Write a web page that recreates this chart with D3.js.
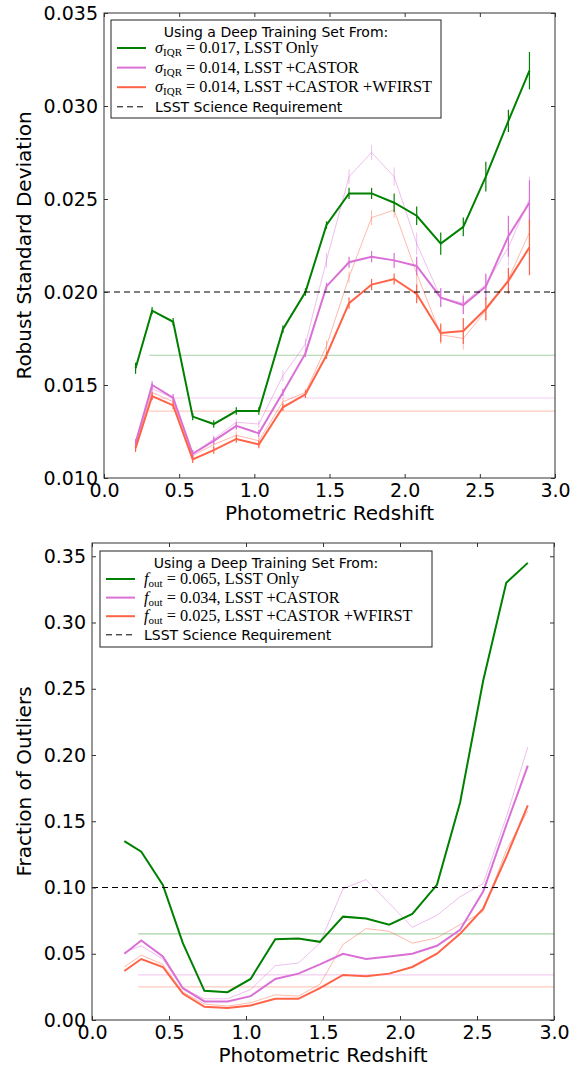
<!DOCTYPE html>
<html>
<head>
<meta charset="utf-8">
<script src="https://cdn.jsdelivr.net/npm/d3@7"></script>
<style>
  body { margin: 0; background: #fff; }
  text { font-family: "DejaVu Sans", sans-serif; }
  .math { font-family: "Liberation Serif", "DejaVu Serif", serif; }
</style>
</head>
<body>
<script>
// redshift bins (shared by both panels)
const redshift = [0.21, 0.32, 0.46, 0.59, 0.73, 0.88, 1.03, 1.19, 1.34, 1.48, 1.63, 1.78, 1.93, 2.08, 2.24, 2.39, 2.54, 2.69, 2.83];

// top panel: robust standard deviation
const sigmaLsst = [0.0159, 0.0190, 0.0184, 0.0133, 0.0129, 0.0136, 0.0136, 0.0180, 0.0200, 0.0236, 0.0253, 0.0253, 0.0248, 0.0241, 0.0226, 0.0235, 0.0262, 0.0292, 0.0319];
const sigmaLsstErr = [0.0003, 0.0002, 0.0002, 0.0002, 0.0002, 0.0002, 0.0002, 0.0002, 0.0002, 0.0002, 0.0003, 0.0003, 0.0005, 0.0005, 0.0006, 0.0005, 0.0008, 0.0006, 0.0010];
const sigmaCastor = [0.0119, 0.0150, 0.0143, 0.0113, 0.0120, 0.0128, 0.0124, 0.0146, 0.0167, 0.0203, 0.0216, 0.0219, 0.0217, 0.0214, 0.0197, 0.0193, 0.0203, 0.0230, 0.0248];
const sigmaCastorErr = [0.0002, 0.0002, 0.0002, 0.0002, 0.0002, 0.0002, 0.0002, 0.0002, 0.0002, 0.0002, 0.0003, 0.0003, 0.0004, 0.0005, 0.0005, 0.0005, 0.0007, 0.0011, 0.0012];
const sigmaWfirst = [0.0116, 0.0144, 0.0139, 0.0110, 0.0115, 0.0121, 0.0118, 0.0138, 0.0145, 0.0166, 0.0194, 0.0204, 0.0207, 0.0199, 0.0178, 0.0179, 0.0191, 0.0206, 0.0224];
const sigmaWfirstErr = [0.0002, 0.0002, 0.0002, 0.0002, 0.0002, 0.0002, 0.0002, 0.0002, 0.0002, 0.0002, 0.0003, 0.0003, 0.0003, 0.0005, 0.0005, 0.0007, 0.0006, 0.0007, 0.0015];
// faint comparison curves
const sigmaCastorAlt = [0.0118, 0.0148, 0.0143, 0.0113, 0.0121, 0.0130, 0.0129, 0.0155, 0.0172, 0.0217, 0.0262, 0.0275, 0.0262, 0.0226, 0.0197, 0.0194, 0.0204, 0.0224, 0.0250];
const sigmaCastorAltErr = [0.0002, 0.0003, 0.0002, 0.0002, 0.0002, 0.0002, 0.0002, 0.0003, 0.0003, 0.0004, 0.0004, 0.0004, 0.0005, 0.0006, 0.0005, 0.0005, 0.0005, 0.0010, 0.0012];
const sigmaWfirstAlt = [0.0117, 0.0146, 0.0141, 0.0112, 0.0118, 0.0123, 0.0120, 0.0141, 0.0146, 0.0171, 0.0208, 0.0240, 0.0244, 0.0210, 0.0177, 0.0175, 0.0190, 0.0207, 0.0232];
const sigmaWfirstAltErr = [0.0002, 0.0002, 0.0002, 0.0002, 0.0002, 0.0002, 0.0002, 0.0002, 0.0002, 0.0003, 0.0003, 0.0004, 0.0004, 0.0007, 0.0005, 0.0006, 0.0006, 0.0006, 0.0012];
const sigmaIqr = [0.0166, 0.0143, 0.0136];
const sigmaReq = 0.020;
const sigmaTicks = [0.010, 0.015, 0.020, 0.025, 0.030, 0.035];

// bottom panel: outlier fraction
const foutLsst = [0.135, 0.127, 0.102, 0.058, 0.022, 0.021, 0.031, 0.061, 0.0615, 0.059, 0.078, 0.0766, 0.072, 0.080, 0.102, 0.164, 0.256, 0.330, 0.345];
const foutCastor = [0.050, 0.060, 0.048, 0.024, 0.014, 0.014, 0.018, 0.031, 0.035, 0.042, 0.050, 0.046, 0.048, 0.050, 0.056, 0.068, 0.097, 0.147, 0.192];
const foutWfirst = [0.037, 0.046, 0.040, 0.020, 0.010, 0.009, 0.011, 0.016, 0.016, 0.024, 0.034, 0.033, 0.035, 0.040, 0.050, 0.065, 0.084, 0.123, 0.162];
const foutCastorAlt = [0.051, 0.056, 0.046, 0.024, 0.016, 0.016, 0.023, 0.041, 0.043, 0.058, 0.099, 0.106, 0.088, 0.070, 0.079, 0.093, 0.103, 0.153, 0.206];
const foutWfirstAlt = [0.040, 0.049, 0.042, 0.021, 0.012, 0.0105, 0.013, 0.019, 0.018, 0.027, 0.057, 0.069, 0.067, 0.058, 0.062, 0.072, 0.082, 0.128, 0.158];
const foutMean = [0.065, 0.034, 0.025];
const foutReq = 0.10;
const foutTicks = [0.00, 0.05, 0.10, 0.15, 0.20, 0.25, 0.30, 0.35];

const xTicks = [0.0, 0.5, 1.0, 1.5, 2.0, 2.5, 3.0];
const legendTitle = 'Using a Deep Training Set From:';
const sigmaLabels = ['0.017, LSST Only', '0.014, LSST +CASTOR', '0.014, LSST +CASTOR +WFIRST'];
const foutLabels = ['0.065, LSST Only', '0.034, LSST +CASTOR', '0.025, LSST +CASTOR +WFIRST'];

const colors = ['#008000', '#da70d6', '#ff6347'];

const svg = d3.select('body').append('svg').
attr('width', 583).
attr('height', 1070);

function panel(p) {
  const x = d3.scaleLinear().domain([0, 3]).range([p.left, p.right]);
  const y = d3.scaleLinear().domain(p.yDomain).range([p.bottom, p.top]);
  const g = svg.append('g');
  const line = d3.line().x(d => x(d[0])).y(d => y(d[1]));

  // mean level lines
  p.levels.forEach((v, i) => {
    g.append('line').
    attr('x1', x(0.3)).attr('x2', x(3)).
    attr('y1', y(v)).attr('y2', y(v)).
    attr('stroke', colors[i]).attr('stroke-opacity', 0.35).attr('stroke-width', 1.2);
  });

  // faint curves, then main curves
  const series = [
    { v: p.alt[0], e: p.altErr && p.altErr[0], c: colors[1], w: 1, o: 0.45 },
    { v: p.alt[1], e: p.altErr && p.altErr[1], c: colors[2], w: 1, o: 0.45 },
    { v: p.main[0], e: p.mainErr && p.mainErr[0], c: colors[0], w: 2, o: 1 },
    { v: p.main[1], e: p.mainErr && p.mainErr[1], c: colors[1], w: 2, o: 1 },
    { v: p.main[2], e: p.mainErr && p.mainErr[2], c: colors[2], w: 2, o: 1 }];

  series.forEach(s => {
    const pts = redshift.map((z, i) => [z, s.v[i]]);
    g.append('path').
    datum(pts).
    attr('d', line).
    attr('fill', 'none').
    attr('stroke', s.c).
    attr('stroke-opacity', s.o).
    attr('stroke-width', s.w);
    if (s.e) {
      g.selectAll(null).
      data(pts).
      enter().
      append('line').
      attr('x1', d => x(d[0])).attr('x2', d => x(d[0])).
      attr('y1', (d, i) => y(d[1] - s.e[i])).
      attr('y2', (d, i) => y(d[1] + s.e[i])).
      attr('stroke', s.c).
      attr('stroke-opacity', s.o).
      attr('stroke-width', s.w === 2 ? 1.2 : 1);
    }
  });

  // science requirement
  g.append('line').
  attr('x1', x(0)).attr('x2', x(3)).
  attr('y1', y(p.req)).attr('y2', y(p.req)).
  attr('stroke', '#000').attr('stroke-width', 1).
  attr('stroke-dasharray', '6,4');

  // axes, ticks pointing inward on all four sides
  g.append('g').
  attr('transform', 'translate(0,' + p.bottom + ')').
  call(d3.axisBottom(x).tickValues(xTicks).tickFormat(d3.format('.1f')).tickSize(-4).tickPadding(6)).
  call(a => a.select('.domain').remove()).
  call(a => a.selectAll('text').attr('font-size', 19).attr('font-family', 'DejaVu Sans').attr('fill', '#000'));
  g.append('g').
  attr('transform', 'translate(0,' + p.top + ')').
  call(d3.axisTop(x).tickValues(xTicks).tickFormat('').tickSize(-4)).
  call(a => a.select('.domain').remove());
  g.append('g').
  attr('transform', 'translate(' + p.left + ',0)').
  call(d3.axisLeft(y).tickValues(p.yTicks).tickFormat(d3.format(p.yFormat)).tickSize(-4).tickPadding(6)).
  call(a => a.select('.domain').remove()).
  call(a => a.selectAll('text').attr('font-size', 19).attr('font-family', 'DejaVu Sans').attr('fill', '#000'));
  g.append('g').
  attr('transform', 'translate(' + p.right + ',0)').
  call(d3.axisRight(y).tickValues(p.yTicks).tickFormat('').tickSize(-4)).
  call(a => a.select('.domain').remove());
  g.selectAll('.tick line').attr('stroke', '#333');

  g.append('rect').
  attr('x', p.left).attr('y', p.top).
  attr('width', p.right - p.left).attr('height', p.bottom - p.top).
  attr('fill', 'none').attr('stroke', '#333').attr('stroke-width', 1);

  g.append('text').
  attr('x', (p.left + p.right) / 2).
  attr('y', p.bottom + 42).
  attr('text-anchor', 'middle').
  attr('font-size', 20).
  text('Photometric Redshift');

  g.append('text').
  attr('transform', 'translate(' + p.yLabelX + ',' + (p.top + p.bottom) / 2 + ') rotate(-90)').
  attr('text-anchor', 'middle').
  attr('font-size', 20).
  text(p.yLabel);

  // legend
  const L = p.legend;
  g.append('rect').
  attr('x', L.x).attr('y', L.y).
  attr('width', L.w).attr('height', L.h).
  attr('fill', '#fff').attr('stroke', '#222').attr('stroke-width', 1);
  g.append('text').
  attr('x', L.x + L.w / 2).
  attr('y', L.y + 17).
  attr('text-anchor', 'middle').
  attr('font-size', 14).
  text(legendTitle);
  p.labels.forEach((lab, i) => {
    const ry = L.y + 28 + i * L.step;
    g.append('line').
    attr('x1', L.x + 6).attr('x2', L.x + 35).
    attr('y1', ry).attr('y2', ry).
    attr('stroke', colors[i]).attr('stroke-width', 2);
    const t = g.append('text').
    attr('class', 'math').
    attr('x', L.x + 44).
    attr('y', ry + 5).
    attr('font-size', 16.3);
    t.append('tspan').attr('font-style', 'italic').text(p.sym);
    t.append('tspan').attr('font-size', 11).attr('dy', 3).text(p.sub);
    t.append('tspan').attr('dy', -3).text(' = ' + lab);
  });
  const dy = L.y + 28 + 3 * L.step;
  g.append('line').
  attr('x1', L.x + 6).attr('x2', L.x + 35).
  attr('y1', dy).attr('y2', dy).
  attr('stroke', '#000').attr('stroke-width', 1).
  attr('stroke-dasharray', '6,4');
  g.append('text').
  attr('x', L.x + 44).
  attr('y', dy + 5).
  attr('font-size', 14).
  text('LSST Science Requirement');
}

panel({
  left: 104, right: 555, top: 13, bottom: 478,
  yDomain: [0.010, 0.035], yTicks: sigmaTicks, yFormat: '.3f',
  yLabel: 'Robust Standard Deviation', yLabelX: 31,
  main: [sigmaLsst, sigmaCastor, sigmaWfirst],
  mainErr: [sigmaLsstErr, sigmaCastorErr, sigmaWfirstErr],
  alt: [sigmaCastorAlt, sigmaWfirstAlt],
  altErr: [sigmaCastorAltErr, sigmaWfirstAltErr],
  levels: sigmaIqr, req: sigmaReq,
  legend: { x: 111, y: 20, w: 330, h: 98, step: 19.6 },
  labels: sigmaLabels, sym: 'σ', sub: 'IQR'
});

panel({
  left: 92, right: 554, top: 543, bottom: 1020,
  yDomain: [0, 0.36], yTicks: foutTicks, yFormat: '.2f',
  yLabel: 'Fraction of Outliers', yLabelX: 31,
  main: [foutLsst, foutCastor, foutWfirst],
  mainErr: null,
  alt: [foutCastorAlt, foutWfirstAlt],
  altErr: null,
  levels: foutMean, req: foutReq,
  legend: { x: 100, y: 551, w: 332, h: 96, step: 18.6 },
  labels: foutLabels, sym: 'f', sub: 'out'
});
</script>
</body>
</html>
